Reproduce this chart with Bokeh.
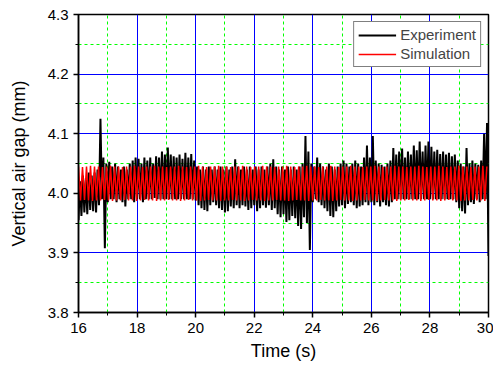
import numpy as np
from bokeh.plotting import figure
from bokeh.models import FixedTicker, PrintfTickFormatter, Range1d, Legend, LegendItem
from bokeh.embed import file_html
from bokeh.resources import INLINE

# ---------------- data ----------------
x_ticks = [16, 18, 20, 22, 24, 26, 28, 30]
x_minor = [17, 19, 21, 23, 25, 27, 29]
y_ticks = [3.8, 3.9, 4.0, 4.1, 4.2, 4.3]
y_minor = [3.85, 3.95, 4.05, 4.15, 4.25]

# Experiment: lower / upper envelope every 0.1 s (low at t, high at t+0.05)
exp_t0 = 16.0
exp_step = 0.1
exp_lo = [
    3.955, 3.962, 3.968, 3.965, 3.972, 3.970, 3.968, 3.980, 3.990, 3.908,   # 16
    3.985, 3.990, 3.990, 3.985, 3.990, 3.985, 3.978, 3.990, 3.990, 3.985,   # 17
    3.990, 3.990, 3.985, 3.990, 3.990, 3.990, 3.992, 3.990, 3.990, 3.990,   # 18
    3.990, 3.990, 3.990, 3.990, 3.990, 3.990, 3.990, 3.990, 3.990, 3.990,   # 19
    3.988, 3.980, 3.975, 3.972, 3.970, 3.980, 3.985, 3.980, 3.975, 3.972,   # 20
    3.968, 3.970, 3.978, 3.975, 3.980, 3.975, 3.980, 3.978, 3.972, 3.975,   # 21
    3.980, 3.970, 3.975, 3.980, 3.976, 3.980, 3.972, 3.975, 3.965, 3.960,   # 22
    3.965, 3.952, 3.955, 3.962, 3.958, 3.945, 3.940, 3.960, 3.950, 3.905,   # 23
    3.985, 3.990, 3.985, 3.980, 3.975, 3.970, 3.962, 3.960, 3.970, 3.978,   # 24
    3.980, 3.975, 3.982, 3.985, 3.980, 3.975, 3.978, 3.980, 3.985, 3.980,   # 25
    3.985, 3.980, 3.985, 3.978, 3.985, 3.980, 3.978, 3.985, 3.990, 3.990,   # 26
    3.990, 3.990, 3.990, 3.990, 3.990, 3.990, 3.990, 3.990, 3.990, 3.990,   # 27
    3.990, 3.990, 3.990, 3.990, 3.990, 3.990, 3.990, 3.990, 3.990, 3.985,   # 28
    3.975, 3.970, 3.966, 3.980, 3.985, 3.982, 3.990, 3.985, 3.990, 3.990,   # 29
]
exp_hi = [
    4.020, 4.030, 4.025, 4.035, 4.030, 4.035, 4.040, 4.125, 4.060, 4.050,   # 16
    4.053, 4.045, 4.050, 4.045, 4.040, 4.045, 4.040, 4.050, 4.055, 4.060,   # 17
    4.058, 4.050, 4.060, 4.055, 4.060, 4.050, 4.062, 4.060, 4.070, 4.065,   # 18
    4.077, 4.065, 4.062, 4.060, 4.065, 4.058, 4.068, 4.060, 4.066, 4.055,   # 19
    4.045, 4.040, 4.045, 4.040, 4.045, 4.040, 4.045, 4.040, 4.045, 4.040,   # 20
    4.045, 4.040, 4.045, 4.057, 4.045, 4.040, 4.045, 4.040, 4.045, 4.040,   # 21
    4.045, 4.040, 4.045, 4.040, 4.045, 4.050, 4.057, 4.045, 4.040, 4.045,   # 22
    4.040, 4.045, 4.040, 4.045, 4.040, 4.045, 4.050, 4.096, 4.070, 4.050,   # 23
    4.045, 4.060, 4.050, 4.045, 4.040, 4.050, 4.045, 4.040, 4.045, 4.050,   # 24
    4.055, 4.050, 4.045, 4.050, 4.055, 4.050, 4.045, 4.060, 4.080, 4.060,   # 25
    4.096, 4.055, 4.050, 4.048, 4.045, 4.050, 4.055, 4.076, 4.065, 4.070,   # 26
    4.075, 4.060, 4.070, 4.065, 4.080, 4.072, 4.087, 4.070, 4.080, 4.087,   # 27
    4.078, 4.070, 4.073, 4.066, 4.070, 4.065, 4.068, 4.062, 4.065, 4.055,   # 28
    4.050, 4.045, 4.076, 4.050, 4.055, 4.050, 4.048, 4.055, 4.100, 4.118,   # 29
]
exp_end = 3.895  # value at t = 30

# Simulation: peak / trough of each oscillation cycle
sim_t0 = 16.0
sim_period = 0.1367
sim_hi = [
    4.045, 4.044, 4.045, 4.046, 4.045, 4.045, 4.044, 4.045, 4.046, 4.045,
    4.045, 4.044, 4.045, 4.045, 4.046, 4.045, 4.044, 4.045, 4.045, 4.046,
    4.045, 4.045, 4.044, 4.045, 4.045, 4.046, 4.045, 4.044, 4.045, 4.045,
    4.046, 4.045, 4.044, 4.045, 4.045, 4.046, 4.045, 4.045, 4.044, 4.045,
    4.045, 4.046, 4.045, 4.044, 4.045, 4.045, 4.046, 4.045, 4.045, 4.044,
    4.045, 4.045, 4.046, 4.045, 4.044, 4.045, 4.045, 4.046, 4.045, 4.045,
    4.044, 4.045, 4.045, 4.046, 4.045, 4.044, 4.045, 4.045, 4.046, 4.045,
    4.045, 4.044, 4.045, 4.045, 4.046, 4.045, 4.044, 4.045, 4.045, 4.046,
    4.045, 4.045, 4.044, 4.045, 4.045, 4.046, 4.045, 4.044, 4.045, 4.045,
    4.046, 4.045, 4.044, 4.045, 4.045, 4.046, 4.045, 4.045, 4.044, 4.045,
    4.045, 4.046, 4.045,
]
sim_lo = [
    3.988, 3.989, 3.988, 3.987, 3.988, 3.988, 3.989, 3.988, 3.987, 3.988,
    3.988, 3.989, 3.988, 3.988, 3.987, 3.988, 3.989, 3.988, 3.988, 3.987,
    3.988, 3.988, 3.989, 3.988, 3.988, 3.987, 3.988, 3.989, 3.988, 3.988,
    3.987, 3.988, 3.989, 3.988, 3.988, 3.987, 3.988, 3.988, 3.989, 3.988,
    3.988, 3.987, 3.988, 3.989, 3.988, 3.988, 3.987, 3.988, 3.988, 3.989,
    3.988, 3.988, 3.987, 3.988, 3.989, 3.988, 3.988, 3.987, 3.988, 3.988,
    3.989, 3.988, 3.988, 3.987, 3.988, 3.989, 3.988, 3.988, 3.987, 3.988,
    3.988, 3.989, 3.988, 3.988, 3.987, 3.988, 3.989, 3.988, 3.988, 3.987,
    3.988, 3.988, 3.989, 3.988, 3.988, 3.987, 3.988, 3.989, 3.988, 3.988,
    3.987, 3.988, 3.989, 3.988, 3.988, 3.987, 3.988, 3.988, 3.989, 3.988,
    3.988, 3.987, 3.988,
]

# ---------------- build line coordinates ----------------
ex, ey = [], []
for i, (lo, hi) in enumerate(zip(exp_lo, exp_hi)):
    t = exp_t0 + i * exp_step
    ex += [t, t + exp_step / 2]
    ey += [lo, hi]
ex.append(30.0)
ey.append(exp_end)

sx, sy = [], []
for k, (hi, lo) in enumerate(zip(sim_hi, sim_lo)):
    t = sim_t0 + k * sim_period
    sx += [t, t + sim_period / 2]
    sy += [hi, lo]
sx = np.array(sx)
sy = np.array(sy)
mask = sx <= 30.0
sx, sy = sx[mask], sy[mask]

# ---------------- figure ----------------
FONT = "Liberation Sans"
p = figure(width=493, height=363, output_backend="svg", toolbar_location=None,
           x_range=Range1d(16, 30), y_range=Range1d(3.8, 4.3),
           min_border_left=78, min_border_top=14, min_border_right=5, min_border_bottom=48)
p.background_fill_color = "white"
p.border_fill_color = "white"
p.outline_line_color = "black"
p.outline_line_width = 1.5

p.xaxis.ticker = FixedTicker(ticks=x_ticks, minor_ticks=x_minor)
p.yaxis.ticker = FixedTicker(ticks=y_ticks, minor_ticks=y_minor)
p.yaxis.formatter = PrintfTickFormatter(format="%.1f")
p.xaxis.formatter = PrintfTickFormatter(format="%d")

for ax in (p.xaxis, p.yaxis):
    ax.axis_line_color = "black"
    ax.axis_line_width = 1.5
    ax.major_tick_line_color = "black"
    ax.major_tick_line_width = 1.5
    ax.major_tick_out = 5
    ax.major_tick_in = 0
    ax.minor_tick_line_color = "black"
    ax.minor_tick_out = 3
    ax.minor_tick_in = 0
    ax.major_label_text_font = FONT
    ax.major_label_text_font_size = "15px"
    ax.major_label_text_color = "black"
    ax.axis_label_text_font = FONT
    ax.axis_label_text_font_size = "18px"
    ax.axis_label_text_font_style = "normal"
    ax.axis_label_text_color = "black"

p.xaxis.axis_label = "Time (s)"
p.yaxis.axis_label = "Vertical air gap (mm)"
p.xaxis.axis_label_standoff = 5
p.yaxis.axis_label_standoff = 16

for g in (p.xgrid, p.ygrid):
    g.grid_line_color = "#0000ff"
    g.grid_line_width = 1
    g.grid_line_alpha = 1.0
    g.minor_grid_line_color = "#00ff00"
    g.minor_grid_line_dash = "3 3"
    g.minor_grid_line_width = 1

r_exp = p.line(ex, ey, line_color="black", line_width=2.0)
r_sim = p.line(sx.tolist(), sy.tolist(), line_color="red", line_width=1.5)

legend = Legend(items=[LegendItem(label="Experiment", renderers=[r_exp]),
                       LegendItem(label="Simulation", renderers=[r_sim])],
                location="top_right")
legend.label_text_font = FONT
legend.label_text_font_size = "15px"
legend.label_height = 16
legend.glyph_width = 38
legend.glyph_height = 16
legend.spacing = 2
legend.padding = 4
legend.margin = 7
legend.label_standoff = 4
legend.border_line_color = "black"
legend.border_line_width = 1
legend.background_fill_alpha = 1.0
legend.border_radius = 0
p.add_layout(legend)

open("out.html", "w").write(file_html(p, INLINE))
